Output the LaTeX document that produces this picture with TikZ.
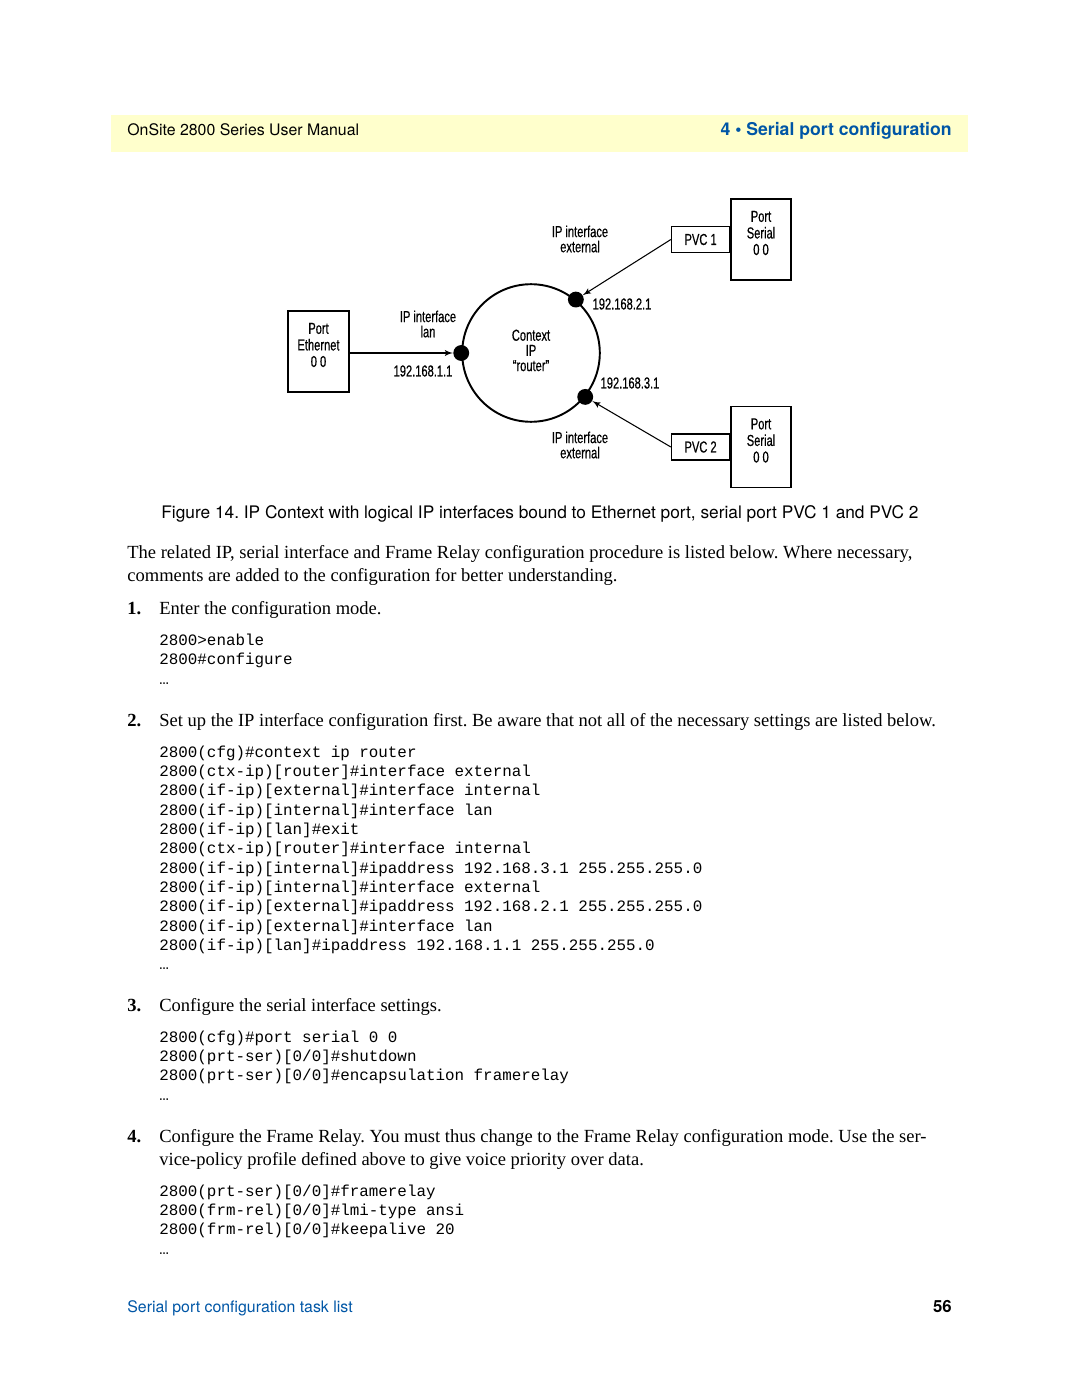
\documentclass[tikz,border=0pt]{standalone}
\usepackage{fontspec}
\setmainfont{Liberation Serif}
\setmonofont{Liberation Mono}
\newfontfamily\headfont{TeX Gyre Heros}
\newfontfamily\figfont[FakeStretch=0.7,FakeBold=0.5]{Liberation Sans}
\usetikzlibrary{arrows,calc,positioning}
\definecolor{hdryellow}{RGB}{255,255,204}
\definecolor{hdrblue}{RGB}{0,86,166}
\frenchspacing

\begin{document}
\begin{tikzpicture}[x=0.5669pt,y=-0.5669pt,>=latex']
	\tikzstyle{box} = [draw, rectangle, line width=0.8pt, inner sep=0pt, align=center, font=\figfont\fontsize{9}{9.4}\selectfont]
	\tikzstyle{lbl} = [align=center, inner sep=0pt, font=\figfont\fontsize{9}{8.6}\selectfont]
	\tikzstyle{dot} = [fill, circle, minimum size=9pt, inner sep=0pt]
	\tikzstyle{body} = [anchor=base west, inner sep=0pt, font=\fontsize{10.5}{12}\selectfont]
	\tikzstyle{code} = [anchor=base west, inner sep=0pt, font=\ttfamily\fontsize{9}{11}\selectfont]
	\tikzstyle{head} = [inner sep=0pt, font=\headfont\fontsize{9}{11}\selectfont]
	
	\useasboundingbox (0,0) rectangle (1080,1397);
	
	% header and footer
	\fill[hdryellow] (111,115) rectangle (968,152);
	\node [head, anchor=base west] (hdl) at (127,136) {OnSite 2800 Series User Manual};
	\node [head, anchor=base east, text=hdrblue, font=\headfont\bfseries\fontsize{10}{11}\selectfont] (hdr) at (952,136) {4 • Serial port configuration};
	\node [head, anchor=base west, text=hdrblue] (ftl) at (127,1312) {Serial port configuration task list};
	\node [head, anchor=base east, font=\headfont\bfseries\fontsize{9.5}{11}\selectfont] (ftr) at (952,1312) {56};
	
	% figure
	\node [draw, circle, line width=1.1pt, minimum size=78pt, inner sep=0pt, align=center, text depth=3pt, font=\figfont\fontsize{9}{8.6}\selectfont] (ctx) at (531,353) {Context\\IP\\“router”};
	\node [dot] (lan) at (ctx.180) {};
	\node [dot] (ext1) at (ctx.50) {};
	\node [dot] (ext2) at (ctx.-39) {};
	
	\node [box, text depth=7.4pt, minimum width=34.6pt, minimum height=45.9pt] (eth) at (318.5,351.5) {Port\\Ethernet\\0 0};
	\node [box, text depth=7.4pt, minimum width=34pt, minimum height=45.9pt] (ser1) at (761,239.5) {Port\\Serial\\0 0};
	\node [box, text depth=7.4pt, minimum width=34pt, minimum height=45.9pt] (ser2) at (761,447) {Port\\Serial\\0 0};
	\node [box, minimum width=32.9pt, minimum height=14.7pt, left=0pt of ser1] (pvc1) {PVC 1};
	\node [box, minimum width=32.9pt, minimum height=14.7pt, left=0pt of ser2] (pvc2) {PVC 2};
	
	\draw [->, line width=0.6pt] (eth.east |- lan) -- (lan);
	\draw [->, line width=0.6pt] (pvc1.west) -- (ext1);
	\draw [->, line width=0.6pt] (pvc2.west) -- (ext2);
	
	\node [lbl] (ip1) at (580,239) {IP interface\\external};
	\node [lbl] (ip0) at (428,324) {IP interface\\lan};
	\node [lbl] (ip2) at (580,445) {IP interface\\external};
	\node [lbl] (a1) at (622,304) {192.168.2.1};
	\node [lbl] (a0) at (423,371) {192.168.1.1};
	\node [lbl] (a2) at (630,383) {192.168.3.1};
	
	\node [head, anchor=base, font=\headfont\fontsize{9.8}{11}\selectfont] (cap) at (540,518) {Figure 14. IP Context with logical IP interfaces bound to Ethernet port, serial port PVC 1 and PVC 2};
	
	% text
	\node [body] (p1) at (127,558) {The related IP, serial interface and Frame Relay configuration procedure is listed below. Where necessary,};
	\node [body] (p2) at (127,581) {comments are added to the configuration for better understanding.};
	
	\node [body, font=\bfseries\fontsize{10.5}{12}\selectfont] (n1) at (127,614) {1.};
	\node [body] (s1) at (159,614) {Enter the configuration mode.};
	\foreach \l [count=\i] in {{2800>enable},{2800\#configure},{…}}
		\node [code] (c1\i) at (159,{645+19.5*(\i-1)}) {\l};
	
	\node [body, font=\bfseries\fontsize{10.5}{12}\selectfont] (n2) at (127,726) {2.};
	\node [body] (s2) at (159,726) {Set up the IP interface configuration first. Be aware that not all of the necessary settings are listed below.};
	\foreach \l [count=\i] in {{2800(cfg)\#context ip router},{2800(ctx-ip)[router]\#interface external},{2800(if-ip)[external]\#interface internal},{2800(if-ip)[internal]\#interface lan},{2800(if-ip)[lan]\#exit},{2800(ctx-ip)[router]\#interface internal},{2800(if-ip)[internal]\#ipaddress 192.168.3.1 255.255.255.0},{2800(if-ip)[internal]\#interface external},{2800(if-ip)[external]\#ipaddress 192.168.2.1 255.255.255.0},{2800(if-ip)[external]\#interface lan},{2800(if-ip)[lan]\#ipaddress 192.168.1.1 255.255.255.0},{…}}
		\node [code] (c2\i) at (159,{757+19.35*(\i-1)}) {\l};
	
	\node [body, font=\bfseries\fontsize{10.5}{12}\selectfont] (n3) at (127,1011) {3.};
	\node [body] (s3) at (159,1011) {Configure the serial interface settings.};
	\foreach \l [count=\i] in {{2800(cfg)\#port serial 0 0},{2800(prt-ser)[0/0]\#shutdown},{2800(prt-ser)[0/0]\#encapsulation framerelay},{…}}
		\node [code] (c3\i) at (159,{1042+19.4*(\i-1)}) {\l};
	
	\node [body, font=\bfseries\fontsize{10.5}{12}\selectfont] (n4) at (127,1142) {4.};
	\node [body] (s4) at (159,1142) {Configure the Frame Relay. You must thus change to the Frame Relay configuration mode. Use the ser-};
	\node [body] (s4b) at (159,1165) {vice-policy profile defined above to give voice priority over data.};
	\foreach \l [count=\i] in {{2800(prt-ser)[0/0]\#framerelay},{2800(frm-rel)[0/0]\#lmi-type ansi},{2800(frm-rel)[0/0]\#keepalive 20},{…}}
		\node [code] (c4\i) at (159,{1196+19.4*(\i-1)}) {\l};
	
\end{tikzpicture}
\end{document}
